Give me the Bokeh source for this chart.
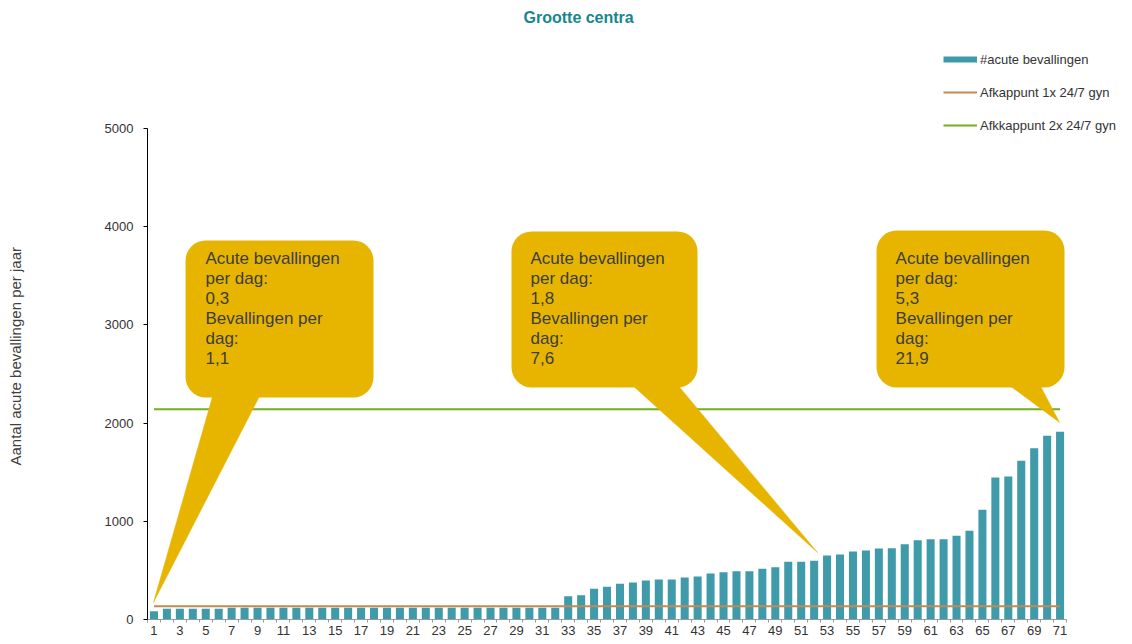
from bokeh.plotting import figure
from bokeh.models import Range1d, FixedTicker, Legend, LegendItem
from bokeh.core.properties import value
from bokeh.embed import file_html
from bokeh.resources import INLINE

# ---------------- data ----------------
categories = list(range(1, 72))
acute_bevallingen = [
    85,
    109, 109, 109, 109, 109,
    120, 120, 120, 120, 120, 120, 120, 120, 120, 120, 120, 120, 120,
    120, 120, 120, 120, 120, 120, 120, 120, 120, 120, 120, 120, 120,
    237, 247, 313, 333, 364, 377, 397, 407, 407, 428,
    438, 468, 482, 492, 492, 516, 533, 588, 588, 598,
    652, 662, 692, 703, 723, 726, 767, 808, 818, 818,
    852, 903, 1117, 1446, 1456, 1616, 1744, 1871, 1911,
]
afkappunt_1x = 135
afkappunt_2x = 2140
y_ticks = [0, 1000, 2000, 3000, 4000, 5000]
x_tick_labels = [str(c) for c in categories if c % 2 == 1]

series_names = ["#acute bevallingen", "Afkappunt 1x 24/7 gyn", "Afkkappunt 2x 24/7 gyn"]
title_text = "Grootte centra"
y_label = "Aantal acute bevallingen per jaar"

acuut_per_dag = ["0,3", "1,8", "5,3"]
totaal_per_dag = ["1,1", "7,6", "21,9"]

# ---------------- styles / callout geometry ----------------
BAR_COLOR = "#3F9AAA"
ORANGE = "#C48A52"
GREEN = "#72B01E"
GOLD = "#E7B500"
TEAL_TITLE = "#17868C"
FONT = "Liberation Sans"

# (left, right, top, bottom, base_x0, base_x1, tip_x, tip_y, text_x, text_y)
callout_geom = [
    (3.44, 17.96, 3859, 2261, 5.83, 9.69, 0.96, 173, 4.98, 3773),
    (28.62, 42.99, 3951, 2363, 36.89, 40.67, 52.26, 682, 30.09, 3773),
    (56.82, 71.34, 3961, 2363, 65.78, 68.95, 70.96, 2006, 58.29, 3773),
]

Y_END = 5998
X_END = 76.44

p = figure(width=1130, height=642, output_backend="svg", toolbar_location=None,
           x_range=Range1d(0.5, X_END), y_range=Range1d(0, Y_END),
           min_border_left=147, min_border_right=0, min_border_top=30,
           min_border_bottom=23)
p.outline_line_color = None
p.grid.visible = False
p.background_fill_color = "white"

# title
p.title.text = title_text
p.title.text_font = FONT
p.title.text_font_size = "16px"
p.title.text_font_style = "bold"
p.title.text_color = TEAL_TITLE
p.title.align = "left"
p.title.offset = 376
p.title.standoff = 10

# bars
bars = p.vbar(x=categories, top=acute_bevallingen, width=0.62,
              fill_color=BAR_COLOR, line_color=None)

# threshold lines
l1 = p.line(x=categories, y=[afkappunt_1x] * len(categories), line_color=ORANGE, line_width=2)
l2 = p.line(x=categories, y=[afkappunt_2x] * len(categories), line_color=GREEN, line_width=2)

# legend proxy for bars (thick band like the original legend)
bar_proxy = p.line(x=[float("nan")], y=[float("nan")], line_color=BAR_COLOR, line_width=6)

# callouts
for i, g in enumerate(callout_geom):
    left, right, top, bottom, bx0, bx1, tx, ty, txt_x, txt_y = g
    p.patch(x=[bx0, bx1, tx], y=[bottom + 150, bottom + 150, ty],
            fill_color=GOLD, line_color=GOLD, line_width=0.5)
    p.quad(left=[left], right=[right], top=[top], bottom=[bottom],
           fill_color=GOLD, line_color=None, border_radius=20)
    txt = "Acute bevallingen\nper dag:\n%s\nBevallingen per\ndag:\n%s" % (acuut_per_dag[i], totaal_per_dag[i])
    p.text(x=[txt_x], y=[txt_y], text=[txt], text_font=value(FONT),
           text_font_size="17px", text_color="#3D3D3D",
           text_baseline="top", text_align="left", text_line_height=1.05)

# axes
xa = p.xaxis[0]
xa.ticker = FixedTicker(ticks=[int(t) for t in x_tick_labels],
                        minor_ticks=[c - 0.5 for c in categories] + [categories[-1] + 0.5])
xa.major_label_overrides = {int(t): t for t in x_tick_labels}
xa.bounds = (0.5, categories[-1] + 0.5)
xa.axis_line_color = "#9A9A9A"
xa.major_tick_line_color = None
xa.major_tick_out = 3
xa.major_tick_in = 0
xa.minor_tick_line_color = "#9A9A9A"
xa.minor_tick_out = 3
xa.minor_tick_in = 0
xa.major_label_standoff = 3
xa.major_label_text_font = FONT
xa.major_label_text_font_size = "13px"
xa.major_label_text_color = "#333333"

ya = p.yaxis[0]
ya.ticker = FixedTicker(ticks=y_ticks, minor_ticks=[])
ya.bounds = (0, 5000)
ya.axis_line_color = "black"
ya.major_tick_line_color = "black"
ya.major_tick_out = 4
ya.major_tick_in = 0
ya.minor_tick_line_color = None
ya.major_label_standoff = 10
ya.major_label_text_font = FONT
ya.major_label_text_font_size = "13px"
ya.major_label_text_color = "#333333"
# non-breaking spaces shift the centred label towards the 0..5000 span, as in the original
ya.axis_label = y_label + "\u00a0" * 15
ya.axis_label_text_font = FONT
ya.axis_label_text_font_size = "15px"
ya.axis_label_text_font_style = "normal"
ya.axis_label_text_color = "#404040"
ya.axis_label_standoff = 78

legend = Legend(items=[
    LegendItem(label=series_names[0], renderers=[bar_proxy]),
    LegendItem(label=series_names[1], renderers=[l1]),
    LegendItem(label=series_names[2], renderers=[l2]),
], location=(796, 486))
legend.padding = 0
legend.margin = 0
legend.border_line_color = None
legend.background_fill_alpha = 0
legend.glyph_width = 34
legend.glyph_height = 16
legend.label_height = 16
legend.spacing = 17
legend.label_standoff = 3
legend.label_text_font = FONT
legend.label_text_font_size = "13px"
legend.label_text_color = "#333333"
p.add_layout(legend)

open("out.html", "w").write(file_html(p, INLINE))
